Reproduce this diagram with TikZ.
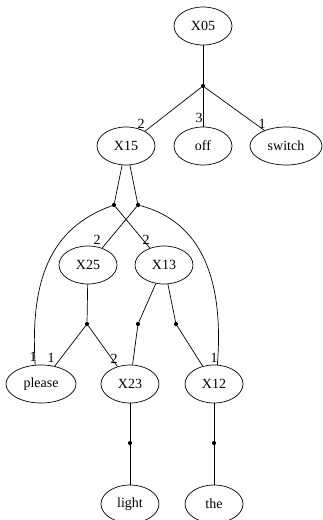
\documentclass[tikz,border=0pt]{standalone}
\usepackage{fontspec}
\setmainfont{Liberation Serif}
\usetikzlibrary{shapes.geometric}
\begin{document}
\begin{tikzpicture}[x=1pt,y=-1pt,
  nd/.style={draw,ellipse,line width=0.7pt,inner sep=0pt,minimum height=38pt,minimum width=58pt,font=\fontsize{14}{16}\selectfont},
  jn/.style={circle,fill,inner sep=0pt,minimum size=4.2pt},
  lb/.style={font=\fontsize{14}{16}\selectfont,inner sep=0pt},
  ln/.style={line width=0.7pt}]
\useasboundingbox (0,0) rectangle (322,520);

% word and phrase nodes
\node[nd] (X05) at (203,26) {X05};
\node[nd] (X15) at (126,146) {X15};
\node[nd] (off) at (203,146) {off};
\node[nd,minimum width=72pt] (switch) at (286,146) {switch};
\node[nd] (X25) at (88,265) {X25};
\node[nd] (X13) at (164,265) {X13};
\node[nd,minimum width=70pt] (please) at (41,384) {please};
\node[nd] (X23) at (130,384) {X23};
\node[nd] (X12) at (214,384) {X12};
\node[nd] (light) at (130,504) {light};
\node[nd] (the) at (214,504) {the};

% junction points
\node[jn] (j05) at (203,86) {};
\node[jn] (jA) at (114,205) {};
\node[jn] (jB) at (138,205) {};
\node[jn] (j25) at (87,324) {};
\node[jn] (j13a) at (138,324) {};
\node[jn] (j13b) at (176,324) {};
\node[jn] (j23) at (130,443) {};
\node[jn] (j12) at (214,443) {};

% connectors
\draw[ln] (X05) -- (j05);
\draw[ln] (j05) -- (X15);
\draw[ln] (j05) -- (off);
\draw[ln] (j05) -- (switch);
\draw[ln] (X15) -- (jA);
\draw[ln] (X15) -- (jB);
\draw[ln] (jA) -- (X13);
\draw[ln] (jB) -- (X25);
\draw[ln] (jA) .. controls (50,228) and (30,280) .. (please.107);
\draw[ln] (jB) .. controls (202,222) and (224,280) .. (X12.80);
\draw[ln] (X25) -- (j25);
\draw[ln] (j25) -- (please);
\draw[ln] (j25) -- (X23);
\draw[ln] (X13) -- (j13a);
\draw[ln] (j13a) -- (X23);
\draw[ln] (X13) -- (j13b);
\draw[ln] (j13b) -- (X12);
\draw[ln] (X23) -- (j23);
\draw[ln] (j23) -- (light);
\draw[ln] (X12) -- (j12);
\draw[ln] (j12) -- (the);

% argument numbers
\node[lb] (l1) at (141,124) {2};
\node[lb] (l2) at (199,118) {3};
\node[lb] (l3) at (262,124) {1};
\node[lb] (l4) at (97,240) {2};
\node[lb] (l5) at (146,240) {2};
\node[lb] (l6) at (33,357) {1};
\node[lb] (l7) at (51,358) {1};
\node[lb] (l8) at (114,359) {2};
\node[lb] (l9) at (214,358) {1};
\end{tikzpicture}
\end{document}
